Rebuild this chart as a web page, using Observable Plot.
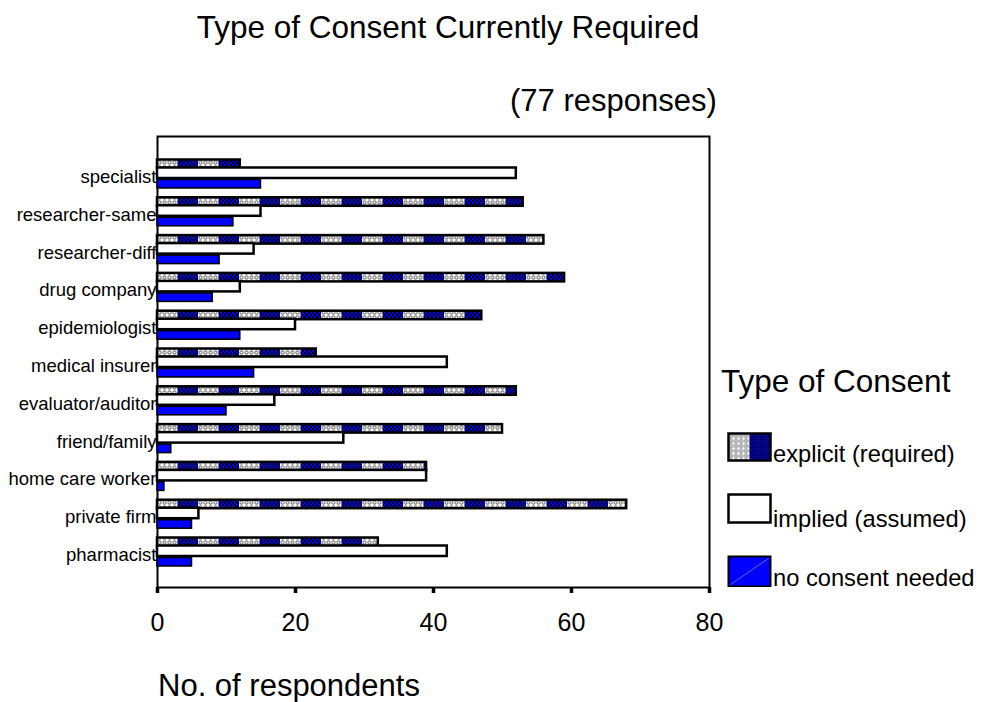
<!DOCTYPE html>
<html>
<head>
<meta charset="utf-8">
<script src="https://cdn.jsdelivr.net/npm/d3@7"></script>
<script src="https://cdn.jsdelivr.net/npm/@observablehq/plot@0.6"></script>
<style>
  body { margin: 0; background: #fff; }
  #wrap { position: relative; width: 982px; height: 702px; overflow: hidden; background: #fff;
          font-family: "Liberation Sans", Arial, sans-serif; color: #000; }
  .txt { position: absolute; white-space: nowrap; line-height: 1; }
  #chart { position: absolute; left: 0; top: 120px; }
  .swatch { position: absolute; }
</style>
</head>
<body>
<div id="wrap">
  <div class="txt" id="title" style="font-size:31.5px; left:448px; top:12px; transform:translateX(-50%);">Type of Consent Currently Required</div>
  <div class="txt" id="subtitle" style="font-size:31px; left:510px; top:85px;">(77 responses)</div>
  <div id="chart"></div>
  <div class="txt" id="xtitle" style="font-size:31px; left:158px; top:670px;">No. of respondents</div>
  <div class="txt" id="legendTitle" style="font-size:31.5px; left:721px; top:366px;">Type of Consent</div>
  <div id="legend"></div>
</div>
<script>
// Who may see a patient's record, and what consent each recipient currently needs
const categories = [
  "specialist", "researcher-same", "researcher-diff", "drug company",
  "epidemiologist", "medical insurer", "evaluator/auditor", "friend/family",
  "home care worker", "private firm", "pharmacist"
];
const explicitCounts = [12, 53, 56, 59, 47, 23, 52, 50, 39, 68, 32];
const impliedCounts  = [52, 15, 14, 12, 20, 42, 17, 27, 39, 6, 42];
const noneCounts     = [15, 11, 9, 8, 12, 14, 10, 2, 1, 5, 5];
const xTicks = [0, 20, 40, 60, 80];
const seriesNames = ["explicit (required)", "implied (assumed)", "no consent needed"];

const rows = categories.map((c, i) => ({
  category: c,
  explicit: explicitCounts[i],
  implied: impliedCounts[i],
  none: noneCounts[i]
}));

// Textured fills: a grey ring-speckled tile and a blue/black checker tile,
// alternated in 20px stripes for the "explicit" bars.
function patternDefs(prefix, offsetX) {
  return `
  <pattern id="${prefix}light" width="5" height="5" patternUnits="userSpaceOnUse">
    <rect width="5" height="5" fill="#fff"/>
    <circle cx="2.5" cy="2.5" r="1.6" fill="none" stroke="#7a7a7a" stroke-width="1.1"/>
  </pattern>
  <pattern id="${prefix}dark" width="4" height="4" patternUnits="userSpaceOnUse">
    <rect width="4" height="4" fill="#0000ff"/>
    <rect width="2" height="2" fill="#000"/>
    <rect x="2" y="2" width="2" height="2" fill="#000"/>
  </pattern>
  <pattern id="${prefix}explicit" x="${offsetX}" y="0" width="41" height="60" patternUnits="userSpaceOnUse">
    <rect width="20.5" height="60" fill="url(#${prefix}light)"/>
    <rect x="20.5" width="20.5" height="60" fill="url(#${prefix}dark)"/>
  </pattern>`;
}

const chart = Plot.plot({
  width: 982,
  height: 530,
  marginTop: 16,
  marginBottom: 63,
  marginLeft: 157,
  marginRight: 273,
  style: { fontFamily: "'Liberation Sans', Arial, sans-serif", color: "#000", background: "transparent", overflow: "visible" },
  x: { domain: [0, 80] },
  y: { domain: categories, range: [38, 447.3], paddingInner: 0.172, paddingOuter: 0, round: false },
  marks: [
    Plot.axisY({ tickSize: 0, tickPadding: 1, fontSize: 18.5, dy: 3, label: null }),
    Plot.frame({ stroke: "#000", strokeWidth: 2 }),
    Plot.barX(rows, { x: "explicit", y: "category", fill: "url(#mexplicit)", stroke: "#000", strokeWidth: 2.5, insetTop: 1.5, insetBottom: 21.3 }),
    Plot.barX(rows, { x: "implied", y: "category", fill: "#fff", stroke: "#000", strokeWidth: 2.5, insetTop: 9.5, insetBottom: 11.3 }),
    Plot.barX(rows, { x: "none", y: "category", fill: "#0000ff", stroke: "#000", strokeWidth: 1.5, insetTop: 21.5, insetBottom: 1.3 }),
    Plot.axisX({ ticks: xTicks, tickSize: 6, tickPadding: 20, strokeWidth: 3.5, fontSize: 25, label: null })
  ]
});
d3.select(chart).insert("defs", ":first-child").html(patternDefs("m", 157));
document.getElementById("chart").appendChild(chart);

// Legend: one swatch per series, label sitting on the swatch's bottom edge
const legendSwatchTops = [433, 494, 556];
const legendLabelTops = [443, 508, 567];
const legend = document.getElementById("legend");
seriesNames.forEach((name, i) => {
  const sw = d3.create("svg")
    .attr("class", "swatch")
    .attr("width", 46).attr("height", 32)
    .style("left", "727px").style("top", (legendSwatchTops[i] - 1) + "px");
  sw.append("defs").html(patternDefs("l" + i, 0));
  const g = sw.append("g").attr("transform", "translate(1.5,1.5)");
  if (i === 0) {
    g.append("rect").attr("width", 21).attr("height", 27).attr("fill", `url(#l${i}light)`);
    g.append("rect").attr("x", 21).attr("width", 21).attr("height", 27).attr("fill", `url(#l${i}dark)`);
    g.append("rect").attr("width", 42).attr("height", 27).attr("fill", "none").attr("stroke", "#000").attr("stroke-width", 2.5);
  } else if (i === 1) {
    g.append("rect").attr("width", 42).attr("height", 28).attr("fill", "#fff").attr("stroke", "#000").attr("stroke-width", 2.5);
  } else {
    g.append("rect").attr("width", 42).attr("height", 30).attr("fill", "#0000ff").attr("stroke", "#000").attr("stroke-width", 2);
    g.append("line").attr("x1", 2).attr("y1", 28).attr("x2", 40).attr("y2", 2).attr("stroke", "#7f7fff").attr("stroke-width", 0.8);
  }
  legend.appendChild(sw.node());
  const lab = document.createElement("div");
  lab.className = "txt";
  lab.style.fontSize = "23.7px";
  lab.style.left = "773px";
  lab.style.top = legendLabelTops[i] + "px";
  lab.textContent = name;
  legend.appendChild(lab);
});
</script>
</body>
</html>
